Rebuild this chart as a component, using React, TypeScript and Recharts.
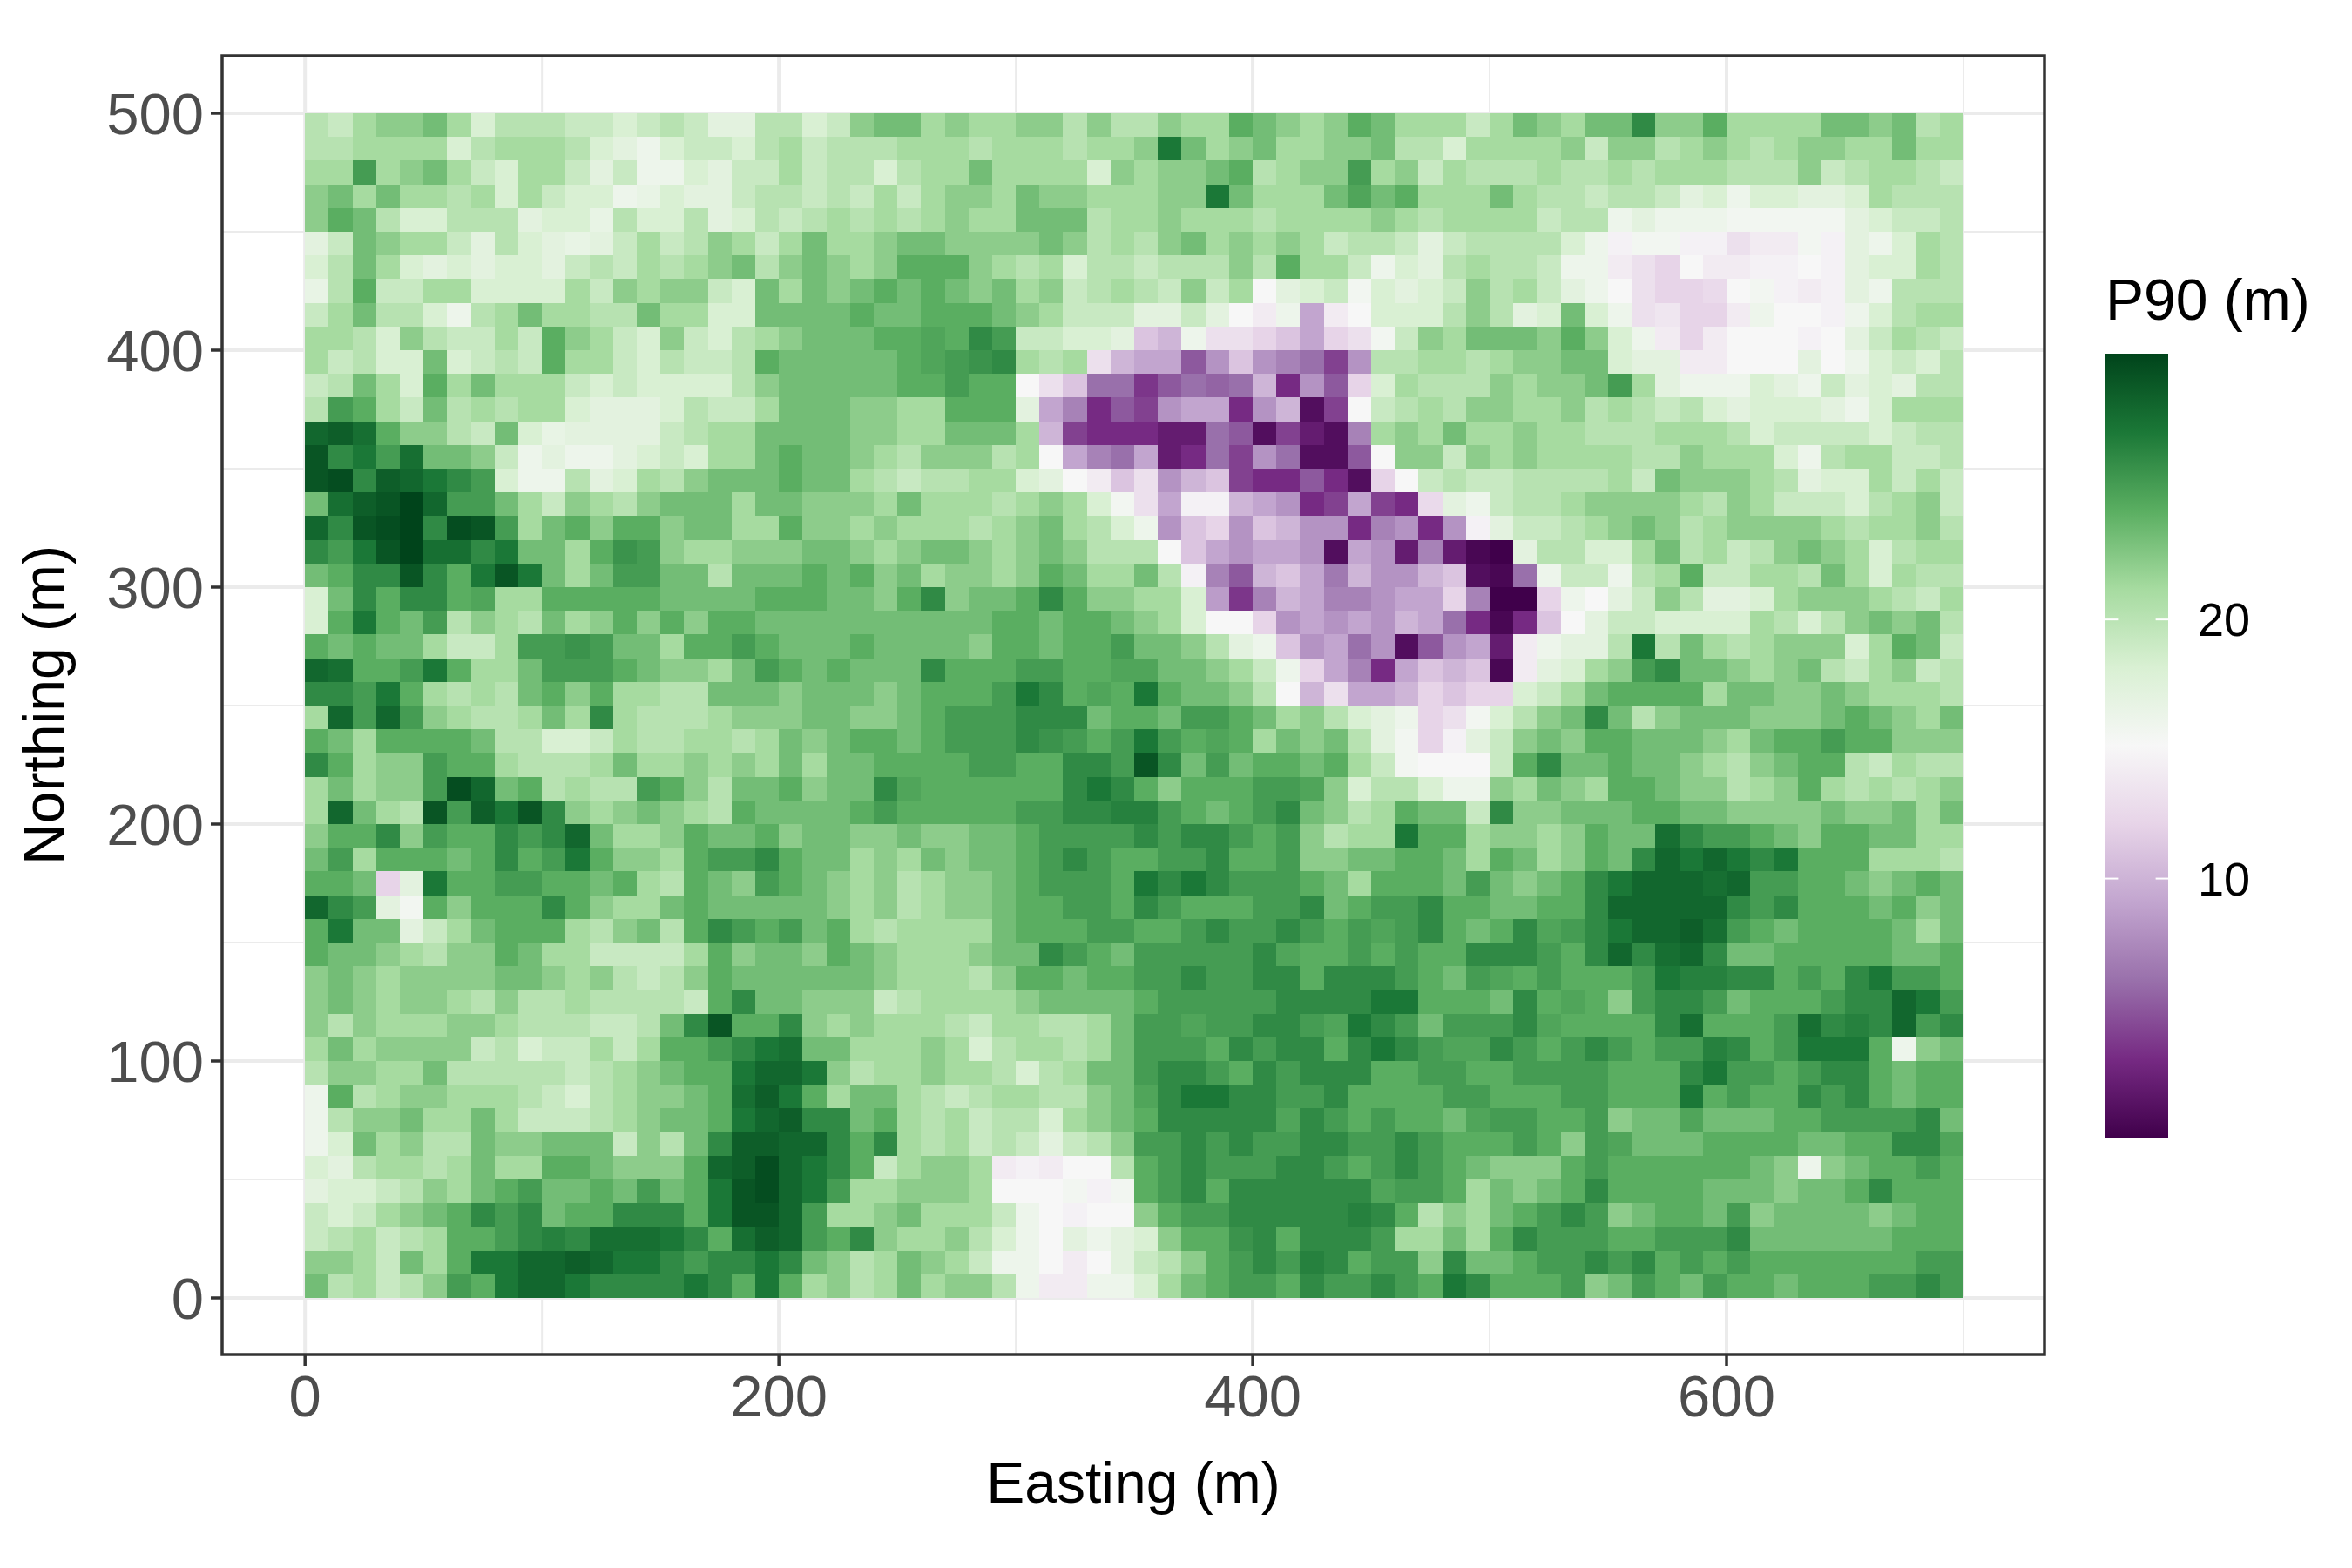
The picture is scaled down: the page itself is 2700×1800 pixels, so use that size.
import React from "react";
import { ScatterChart, Scatter, XAxis, YAxis, CartesianGrid, ReferenceArea } from "recharts";

const eastings = [5,15,25,35,45,55,65,75,85,95,105,115,125,135,145,155,165,175,185,195,205,215,225,235,245,255,265,275,285,295,305,315,325,335,345,355,365,375,385,395,405,415,425,435,445,455,465,475,485,495,505,515,525,535,545,555,565,575,585,595,605,615,625,635,645,655,665,675,685,695];
const northings = [495,485,475,465,455,445,435,425,415,405,395,385,375,365,355,345,335,325,315,305,295,285,275,265,255,245,235,225,215,205,195,185,175,165,155,145,135,125,115,105,95,85,75,65,55,45,35,25,15,5];

// P90 (m) read per cell; one list per northing, west to east
const p90Rows: number[][] = [
[20,19,21,22,22,23,21,18,20,20,20,19,19,18,19,20,19,17,17,20,20,18,19,22, 23,23,21,22,21,21,22,22,20,22,20,20,22,21,21,24,23,22,21,22,24,23,21, 21,21,19,21,23,22,21,23,23,26,22,22,24,21,21,21,21,23,23,22,23,20,21],
[20,20,21,21,21,21,18,20,21,21,21,20,18,17,16,18,19,19,18,20,21,19,20,20, 20,21,21,21,20,21,21,21,20,21,21,22,27,23,21,22,23,21,21,22,22,23,20, 20,18,21,21,21,21,22,19,22,22,20,21,22,21,20,21,22,22,21,21,23,21,21],
[21,21,25,21,22,23,21,19,18,21,21,19,17,19,16,16,18,17,19,19,21,19,20,20, 18,20,21,21,23,21,21,21,21,18,22,21,22,22,23,24,20,21,22,22,25,21,22, 19,21,20,20,20,21,20,20,21,20,21,21,21,20,20,20,22,19,20,21,21,20,19],
[22,23,21,23,21,21,20,21,18,21,19,18,18,16,16.5,18,17,17,19,20,20,19,20,19, 21,19,21,22,22,21,23,22,22,21,21,21,22,22,27,23,21,21,21,23,24.5,23,24, 21,21,21,23,21,20,20,19,20,20,19,17,18,16,18,18,17,17,18,21,20,20,20],
[22,24,23,20,18,18,20,20,20,17,18,18,16.5,20,18,18,20,17,18,20,19,20,21,20, 21,20,21,22,21,21,23,23,23,20,21,21,22,21,21,21,20,21,21,21,21,22,21, 20,21,21,21,21,19,20,20,16,17,16,16,16,15.5,15.5,15.5,15.5,15.5,17,18,19,19,20],
[17,19,23,22,21,21,19,17,20,18,17,16.5,17,19,21,19,20,22,21,19,21,23,21,21, 22,23,23,22,22,22,22,23,22,20,21,20,22,23,21,22,21,22,21,19,20,20,19, 17,19,20,20,20,20,18,16,14.5,15.5,15.5,14.5,14.5,13,14,14,15.5,14.5,17,16,18,21,20],
[18,20,23,21,18,17,18,17,18,18,17,19,20,19,21,20,21,22,23,20,22,23,22,21, 22,24,24,24,22,21,20,21,18,20,20,19,20,20,20,22,20,24,21,21,19,16,18, 17,20,21,20,20,19,16,16,14,13,12,15,14,14,14.5,14.5,15,14.5,17,18,18,21,20],
[16.5,20,24,19,19,21,21,18,18,18,18,21,19,22,21,22,22,19,18,23,21,23,22,23, 24,23,24,23,22,23,21,22,19,20,21,20,19,22,19,21,15,17,18,19,15.5,18,17, 18,19,22,20,21,19,17,16,15,13,12,12,12.5,15,15.5,14.5,14,14.5,17,16,20,20,20],
[19,21,23,20,20,18,16,20,21,23,21,21,20,20,23,21,21,18,18,23,23,23,23,24, 23,23,24,24,24,23,22,21,19,19,19,17,17,19,17,15,14,16,9,14,15,18,18, 18,20,22,20,17,18,23,18,16,13,13.5,12,12,14,16,15,15,14.5,16,18,20,21,21],
[21,21,20,18,22,20,19,19,21,19,24,22,21,19,18,22,19,18,20,21,22,23,23,23, 24,24,24.5,24,26,25,19,19,18,18,17,11,10,16,13,13,12,11,9,12,13,15.5,19, 22,21,23,23,23,22,24,22,18,16,14,12,14,15,15,15,14.5,15,17,19,21,20,19],
[21,19,20,18,18,23,18,19,20,19,24,21,21,19,18,20,19,19,20,24,23,23,23,23, 23,24,24.5,25,25.5,26,21,20,21,13,10,9,9,5,8,11,8,7,6,4,8,20,20, 21,21,20,21,22,22,23,23,18,17,17,14,14,15,15,15,17,15,16,18,19,18,20],
[19,20,23,21,18,24,21,23,21,21,21,19,18,19,18,18,18,18,20,22,23,23,23,23, 23,24,24,25,24,24,15,13,11,6,6,3.5,5,6,5.5,6,10,3,8,5,12,18,21, 20,20,20,22,21,22,22,23,25,21,17,16,16,16,18,17,16,19,17,18,17,20,20],
[20,25,24,21,19,23,20,21,20,21,21,18,17,17,17,18,20,19,19,21,23,23,23,22, 22,21,21,24,24,24,17,9,7,3,5,4,8,9,9,3,8,10,1,4,15,19,20, 21,20,22,22,21,21,22,20,21,20,19,20,18,17,18,18,18,17,16,18,21,21,21],
[28,28.5,27.5,24,22,22,20,19,23,18,16.5,17,17,17,17,19,20,21,21,23,23,23,23,22, 22,21,21,23,23,23,21,10,4,3,3,3,2,2,6,5,1,4,2,1,7,21,22, 21,23,21,21,22,21,21,20,20,20,21,21,21,20,18,19,19,19,19,18,19,20,20],
[29,26,27,25,27.5,23,23,22,19,16,17,16,16,17,18,19,18,21,21,23,24,23,23,22, 21,20,22,22,22,20,21,15,9,7,6,9,2,3,6,4,8,6,1,1,5,15,22, 22,19,22,21,22,21,21,21,21,20,20,22,21,21,21,18,16,20,21,21,19,19,20],
[29,29.5,26,28.5,28,27,26,25,18,16,16,20,17,18,21,20,22,23,23,23,24,23,23,21, 20,19,20,20,21,21,18,17,15,14,11,13,8,10,11,4,3,3,5,3,1,12,15, 19,20,19,19,20,20,20,20,21,19,23,22,22,22,21,20,17,18,18,21,19,21,19],
[23,27.5,28.5,29,30,28,25,25,23,21,19,22,21,20,22,23,23,23,21,23,23,22,22,22, 21,23,21,21,21,20,21,22,21,18,15.5,13,9,14.5,14.5,10,9,8,3,4,9,4,3, 12.5,17,16,19,20,20,21,22,22,22,22,21,20,22,21,19,19,19,18,20,21,22,19],
[28,26,29,29.5,30,26,29.5,29,25,21,23,24,22,24,24,22,23,23,21,21,24,22,22,21, 22,21,21,21,20,21,22,23,21,20,18,16,8,11,12,8,11,10,8,8,3,7,8, 3,8,14.5,17,19,19,20,21,22,23,22,20,21,22,22,22,22,21,20,21,21,22,20],
[26,25,27,29,30,27.5,27.5,26,27,23,23,21,24,25.5,25,22,21,21,22,22,22,23,23,22, 21,22,23,23,22,21,22,23,22,20,20,20,15,11,9,8,9,9,8,1,9,8,2, 7,2,0.5,0,17,20,20,18,18,21,23,20,21,19,20,22,23,22,21,18,20,21,21],
[23,24,26,26,29,26,24,27,29,27,23,21,23,25,25,23,23,20,23,23,23,24,23,24, 22,23,21,22,22,21,22,24,23,21,21,23,20,14.5,7,5,10,11,9,6.5,10,8,8, 10,11,1,0.5,6,16,19,19,16,20,21,24,19,19,21,21,20,23,21,18,21,20,20],
[18,23,26,24,26,26,24,24.5,21,21,24,24,24,24,24,23,23,23,23,24,24,24,23,23, 22,24,26,22,23,23,24,26,24,22,22,21,21,18,8.5,3.5,7,10,9,7,7,8,9, 9,12,7,0,0,12,16,15,17,19,22,20,17,17,18,21,22,22,22,21,20,19,21],
[18,24,27,24,23,25,20,22,21,20,23,21,22,24,22,24,22,24,24,23,23,23,23,23, 23,23,23,23,23,24,24,23,24,24,23,22,21,18,15,15,12,8,9,8,9,8,10, 9,6,3,0.5,3,11,15,17,19,19,18,18,18,18,21,20,18,20,22,23,22,23,20],
[24,23,24,23,23,21,19,19,21,25,25,25.5,25,23,23,21,24,24,25,24,23,23,23,24, 23,23,23,23,22,24,24,23,24,24,25,23,23,22,20,17,16,11,8,9,6,8,1, 5,8,9,2,14,16,17,17,20,27,20,23,21,20,21,22,22,22,18,21,24,23,19],
[28,27.5,24,24,25,27,24,21,21,23,25,25,25,24,23,22,22,21,23,25,24,23,24,23, 23,23,26,24,24,24,25,25,24,24,24.5,24.5,23,23,22,21,19,16,12,9,7,3,9, 11,10,11,0.5,14,17,18,21,22,25,26,23,23,22,21,22,23,20,19,21,22,19,20],
[26,26,25,27,24,21,20,21,20,23,24,22,24,21,21,20,20,23,23,23,22,23,23,23, 22,23,24,24,24,25,27,26,24,24.5,24,27,24,23,23,22,20,15,10,13,9,9,10, 12,11,12,12,18,19,21,23,24,24,24,24,21,23,23,22,22,23,22,21,21,21,20],
[21,28,25,28,25,22,21,20,20,21,23,21,26,21,20,20,20,21,22,22,22,23,23,22, 22,23,24,25,25,25,26,26,26,23,24,24,23,25,25,24,23,21,22,20,18,17,16, 12,13,15.5,18,20,22,23,26,23,20,22,23,23,23,22,22,22,23,24,23,22,21,23],
[24,23,21,24,24,24,24,23,20,20,18,18,19,21,20,20,21,21,20,21,23,22,23,24, 24,23,24,25,25,25,26,25.5,25,24,25,27,25,24,24.5,24,21,23,22,23,20,17,15.5, 12,14.5,17,19,22,23,22,24,24,23,23,23,22,21,23,24,24,25,24,24,22,22,22],
[26,24,21,22,22,25,24,24,21,20,20,20,21,23,21,21,22,21,22,21,23,21,23,23, 24,24,24,24,25,25,24,24,26,26,25,29,26,23,25,23,24,24,23,24,21,19,15.5, 15,15,15,19,24,26,23,23,24,23,23,22,21,20,22,23,24,24,20,19,21,20,20],
[21,23,21,22,22,25,29.5,28,23,24,20,21,20,20,25,24,22,20,23,23,24,22,23,23, 26,24.5,24,24,24,24,24,24,26,27,26,24,22,24,24,24,25,25,24.5,22,18,20,20, 18,16,16,22,21,23,22,21,24,24,23,22,22,20,21,22,24,21,20,21,20,21,22],
[21,28,23,21,20,29,25,28.5,27,29,26,22,21,22,23,22,21,20,24,23,23,23,23,24, 25,24,24,24,24,24,25,25,26,26,26.5,26.5,25,24,23,24,25,26,23,22,20,21,24, 23,23,19,26,22,22,23,23,23,24,24,23,23,22,22,22,22,23,22,22,23,21,23],
[22,24,24,26,22,25,24,24,26,25,26,28,23,21,21,22,24,23,23,24,22,23,23,22, 22,23,22,22,23,23,24,25,25,25,25,26,25,26,26,25,24,25,22,20,21,21,27, 24,24,21,22,22,21,22,24,23,23,27.5,26,25,25,24,23,22,24,24,23,23,21,21],
[23,25,21,24,24,24,23,24,26,24,25,27,24,22,22,21,24,25,25,26,24,23,23,21, 22,21,23,22,23,23,24,25,26,25,24,24,25,25,26,24,24,25,22,22,23,23,24, 24,23,21,24,23,21,22,24,23,26,28,27,28,27,26,27,24,24,24,21,21,21,20],
[24,24,23,12,17,27,24,24,25,25,24,24,23,24,21,20,24,23,22,25,24,23,22,21, 22,20,21,22,22,23,24,25,25,25,24,27,26,27,26,25,25,25,24,23,21,24,24, 24,23,25,23,22,23,24,26,27,28,28,28,27.5,28,25,25,24,24,23,22,23,24,23],
[28,26,25,17,15.5,24,22,24,24,24,26,24,22,21,21,23,24,23,23,23,23,23,22,21, 22,20,21,22,22,23,24,24,25,25,24,26,25,24,24,24,25,25,26,23,24,25,25, 26,24,24,23,23,24,24,26,28,28,28,28,28,26,25,26,24,24,24,23,24,22,23],
[24,27,23,23,17,19,21,23,24,24,24,21,20,22,23,20,24,26,25,24,25,23,24,21, 20,21,21,21,21,23,24,24,24,25,25,24,24,25,26,25,25,26,25,24,25,24.5,25, 26,24,23,24,26,24.5,25,26,27,28,28,28.5,27.5,25,24,23,24,24,24,24,23,21,23],
[24,23,23,22,21,20,22,22,24,23,21,21,19,19,19,19,21,24,22,23,23,22,24,23, 22,21,21,21,22,23,23,26,25,24,23,25,25,25,25,25,26,24.5,24,24,25,24,25, 24,24,26,26,26,25,24,26,28,26,27.5,28,26,23,23,24,24,24,24,24,23,23,24],
[22,23,22,21,22,22,22,22,23,23,22,21,22,20,19,20,22,24,23,23,23,23,23,23, 22,21,21,21,20,22,24,24,23,24,24,25,25,26,25,25,26,26,24,26,26,26,25, 24,23,25,24.5,24,25,24,24,24,25,27,26.5,26.5,26,26,24,25,24,26,27,25,25,24],
[22,23,22,21,22,22,21,20,22,20,20,21,20,20,20,20,19,24,26,23,23,22,22,22, 19,20,21,21,21,21,22,23,23,23,23,24,25,25,25,25,25,26,26,26,26,27,27, 24,24,24,23,26,24,24.5,24,22,25,26,26,25,23,24,24,24,25,26,26,28,27,25],
[22,20,22,21,21,21,22,22,21,20,20,20,19,19,20,23,26,29,24,24,26,22,21,22, 21,21,21,20,19,21,21,20,20,21,23,25,25,24.5,25,25,26,26,25,24.5,27,26,25, 23,25,25,25,26,24.5,24,24,24,24,26,27.5,24,24,24,25,27.5,26,26.5,26,28,25,26],
[21,23,21,22,22,22,22,19,20,18,19,19,21,19,21,24,24,25,26,27,27.5,23,23,21, 21,21,22,21,18,20,21,21,20,21,23,25,25,25,24,26,25,26,26,24,26,27,26, 25,24.5,24.5,26,25,24,25,26,25,24,25,25,26.5,26,24,25,27,27,27,24,16,22,23],
[20,22,22,21,21,23,20,20,20,20,20,19,20,21,22,23,24,24,27,28,28,27,22,20, 21,21,22,21,21,20,18,20,21,23,23,25,26,26,25,24,26,25,26,26,26,24,24, 25,25,24,24,25,25,25,25,24,24,24,26,27,25,25,24,25,26,26,24,23,24,24],
[16,24,20,21,22,22,21,21,21,20,19,18,20,21,22,22,23,24,27.5,28.5,27,24,21,23, 23,21,20,19,20,21,21,20,20,22,23,24.5,26,27,27,26,26,25,25,26,24,24,24, 24,25,25,24,24,24,25,25,24,24,24,27,24,25,24,24,26,25,26,24,23,24,24],
[16,20,22,22,23,21,21,23,21,19,19,19,20,21,22,23,23,24,27,28,28.5,26,26,23, 24,21,20,21,19,20,20,18,21,22,23,24,26,26,26,26,26,24.5,26,25,24,25,24, 24,23,24.5,25,25,24,24,25,22,23,23,24.5,23,23,23,24,24,25,25,25,25,26,23],
[16,18,23,21,22,20,20,23,22,22,23,23,23,19,22,20,23,26,28.5,28.5,28,28,26,24, 26,21,20,21,19,20,19,17,19,20,22,25,25,26,25,26,25,25,26,26,25,25,26, 25,24,24,24,25,24,22,25,24.5,23,23,23,24,24,24,24,23,23,24,24,26,26,24.5],
[18,17,20,21,21,20,21,23,21,21,24,24,23,22,22,22,24,28,28.5,29.5,28,27,26,24, 19,21,22,22,21,14,14.5,14,15,15,20,24,25,26,25,25,25,26,26,25,24,25,26, 25,24,23,22,22,22,24,25,24,24,24,24,24,24,23,22,16,22,23,24,24,25,24],
[17,18,18,19,20,22,21,23,24,25,23,23,24,23,25,23,24,27,29,29.5,28,27,25,21, 21,22,22,22,21,15,15,15,15.5,14.5,15.5,24,25,26,24,26,26,26,26,26,26,24.5,25, 25,24,21,23,22,23,24,26,24,24,24,24,23,23,23,22,23,23,24,26,24,24,24],
[19,18,19,21,22,23,24,26,25,26,23,24,24,26,26,26,24,27,29,29,28,25,21,21, 22,23,21,21,21,19,16,15,14.5,15,15,22,24,25,25,26,26,26,26,26,26.5,26,24, 20,22,21,23,24,25,26,25,22,23,24,24,23,25,22,23,23,23,23,22,23,24,24],
[19,20,21,19,20,21,24,24,25,26,26.5,26,27.5,27.5,27.5,27,26,24,27.5,28.5,28,25,24,26, 22,21,21,22,20,18,16,15,17,16,17,18,22,24,24,25.5,26,24,26,26,26,25,21, 21,23,21,24,26,25,25,25,24,24,25,25,25,26,23,23,23,23,23,23,24,24,24],
[22,22,21,19,23,21,24,27,27,28,28,28.5,28,27,27,26,25,26,26,27,26,23,22,20, 21,23,22,21,19,16,16,15,14,15,17,19,20,22,24,25,26,25,26.5,26,24,25,25, 22,26,23,23,24,25,25,26,25,26,24,25,24,25,24,24,24,24,24,24,24,25,25],
[23,20,21,19,20,22,25,24,27,28,28,27,26,26,26,26,27,26,24,27,24,21,22,20, 21,23,21,22,22,20,16,14,14,16,16,18,21,23,24,25,25,24,26,25,25,26,25, 24,27,26,24,24,24,25,22,23,25,24,23,25,24,24,23,24,24,24,25,25,26,25],
];

const prgnStops = ["#40004B","#762A83","#9970AB","#C2A5CF","#E7D4E8","#F7F7F7","#D9F0D3","#A6DBA0","#5AAE61","#1B7837","#00441B"];
const colorMax = 30;
const cellPx = 27.2;

const tiles = p90Rows.flatMap((row, r) =>
  row.map((p90, c) => ({ x: eastings[c], y: northings[r], p90 }))
);

const xMajor = [0, 200, 400, 600];
const xMinor = [100, 300, 500, 700];
const yMajor = [0, 100, 200, 300, 400, 500];
const yMinor = [50, 150, 250, 350, 450];
const legendTicks = [10, 20];

const hex = (s: string) => [1, 3, 5].map((i) => parseInt(s.slice(i, i + 2), 16));
function colorOf(v: number) {
  const t = (Math.max(0, Math.min(colorMax, v)) / colorMax) * (prgnStops.length - 1);
  const i = Math.min(prgnStops.length - 2, Math.floor(t));
  const a = hex(prgnStops[i]);
  const b = hex(prgnStops[i + 1]);
  const m = a.map((x, k) => Math.round(x + (b[k] - x) * (t - i)));
  return `rgb(${m[0]},${m[1]},${m[2]})`;
}

const Tile = (p: any) => (
  <rect
    x={p.cx - cellPx / 2}
    y={p.cy - cellPx / 2}
    width={cellPx + 0.5}
    height={cellPx + 0.5}
    fill={colorOf(p.payload.p90)}
    shapeRendering="crispEdges"
  />
);

const FONT = "'Liberation Sans', Arial, sans-serif";
const tickStyle = { fill: "#4D4D4D", fontSize: 67, fontFamily: FONT };
const titleStyle = { fill: "#000000", fontSize: 66, fontFamily: FONT };

const barTop = 406;
const barBottom = 1306;
const barX = 2417;
const barW = 72;
const barMax = 30.26;
const barY = (v: number) => barBottom - (v / barMax) * (barBottom - barTop);

export default function App() {
  return (
    <div style={{ position: "absolute", left: 0, top: 0, width: 2700, height: 1800, background: "#fff" }}>
      <ScatterChart width={2700} height={1800} margin={{ top: 64, right: 353, bottom: 0, left: 0 }}>
        <CartesianGrid stroke="#EBEBEB" strokeWidth={2} horizontalValues={yMinor} verticalValues={xMinor} />
        <CartesianGrid stroke="#EBEBEB" strokeWidth={4} horizontalValues={yMajor} verticalValues={xMajor} />
        <XAxis
          type="number"
          dataKey="x"
          domain={[-35, 734.2]}
          ticks={xMajor}
          allowDataOverflow
          axisLine={false}
          height={245}
          tickSize={13}
          tickMargin={10}
          tickLine={{ stroke: "#333333", strokeWidth: 3.5 }}
          tick={tickStyle}
          label={{ value: "Easting (m)", position: "insideBottom", offset: 75, style: titleStyle }}
        />
        <YAxis
          type="number"
          dataKey="y"
          domain={[-23.9, 524.26]}
          ticks={yMajor}
          allowDataOverflow
          axisLine={false}
          width={255}
          tickSize={13}
          tickMargin={8}
          tickLine={{ stroke: "#333333", strokeWidth: 3.5 }}
          tick={tickStyle}
          label={{ value: "Northing (m)", angle: -90, position: "insideLeft", offset: 50, style: { ...titleStyle, textAnchor: "middle" } }}
        />
        <Scatter data={tiles} shape={Tile} isAnimationActive={false} />
        <ReferenceArea x1={-35} x2={734.2} y1={-23.9} y2={524.26} fill="none" stroke="#333333" strokeWidth={3.5} />
      </ScatterChart>
      <svg width={2700} height={1800} style={{ position: "absolute", left: 0, top: 0, pointerEvents: "none" }}>
        <defs>
          <linearGradient id="prgn" x1="0" y1="1" x2="0" y2="0">
            {prgnStops.map((c, i) => (
              <stop key={c} offset={i / (prgnStops.length - 1)} stopColor={c} />
            ))}
          </linearGradient>
        </defs>
        <text x={2417} y={367} fontSize={66} fontFamily={FONT} fill="#000">P90 (m)</text>
        <rect x={barX} y={barTop} width={barW} height={barBottom - barTop} fill="url(#prgn)" />
        {legendTicks.map((v) => (
          <g key={v}>
            <line x1={barX} x2={barX + 14.4} y1={barY(v)} y2={barY(v)} stroke="#fff" strokeWidth={2} />
            <line x1={barX + barW - 14.4} x2={barX + barW} y1={barY(v)} y2={barY(v)} stroke="#fff" strokeWidth={2} />
            <text x={2583} y={barY(v) + 19} fontSize={54} textAnchor="end" fontFamily={FONT} fill="#000">{v}</text>
          </g>
        ))}
      </svg>
    </div>
  );
}
